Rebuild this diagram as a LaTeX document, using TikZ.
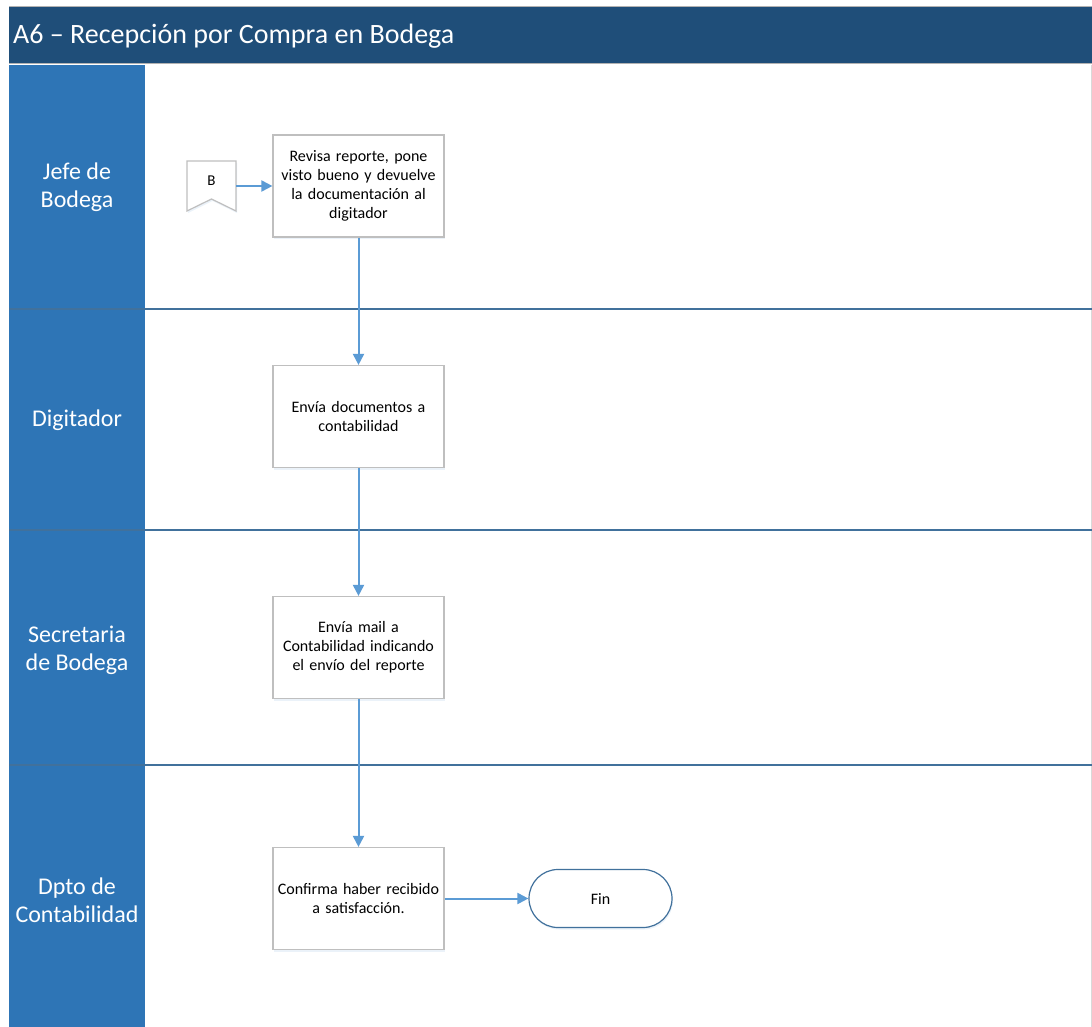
\documentclass[tikz,border=0pt]{standalone}
\usepackage{fontspec}
\setmainfont{Carlito}
\usetikzlibrary{arrows.meta,shapes.misc,shadows}
\definecolor{titlebar}{RGB}{31,78,121}
\definecolor{lanehead}{RGB}{46,117,182}
\definecolor{flow}{RGB}{91,155,213}
\definecolor{sepline}{RGB}{65,113,156}
\definecolor{boxline}{RGB}{191,191,191}
\tikzset{
  x=1pt, y=-1pt,
  lanelabel/.style={text=white, font=\fontsize{24}{28}\selectfont, align=center},
  softshadow/.style={drop shadow={opacity=0.12, shadow xshift=1pt, shadow yshift=-2pt, fill=flow}},
  taskbox/.style={draw=boxline, line width=1.2pt, fill=white, softshadow, minimum width=171pt, minimum height=102pt, align=center, text width=168pt, font=\fontsize{16}{19}\selectfont, inner sep=0pt},
  terminal/.style={draw=sepline, line width=1.2pt, fill=white, softshadow, rounded rectangle, minimum width=143pt, minimum height=58pt, inner xsep=0pt, font=\fontsize{16}{19}\selectfont},
  flowarrow/.style={draw=flow, line width=2pt, -{Triangle[length=11pt,width=11pt]}},
  lanesep/.style={draw=sepline, line width=2pt}
}
\begin{document}
\begin{tikzpicture}
\useasboundingbox (0,0) rectangle (1092,1027);
\fill[white] (0,0) rectangle (1092,1027);
% title bar
\fill[titlebar] (9,7) rectangle (1092,63);
\draw[gray!60, line width=1pt] (9,7) -- (1092,7);
\draw[gray!60, line width=1pt] (9,63.5) -- (1092,63.5);
\node[anchor=west, text=white, font=\fontsize{28}{32}\selectfont, inner sep=0pt] (title) at (13,36) {A6 – Recepción por Compra en Bodega};
% lane header column
\fill[lanehead] (9,65) rectangle (145,1027);
\draw[gray!30, line width=0.6pt] (1091.5,65) -- (1091.5,1027);
% lane separators
\draw[lanesep] (9,309) -- (1092,309);
\draw[lanesep] (9,530) -- (1092,530);
\draw[lanesep] (9,765) -- (1092,765);
% lane labels
\node[lanelabel] (l1) at (77,187) {Jefe de\\Bodega};
\node[lanelabel] (l2) at (77,420) {Digitador};
\node[lanelabel] (l3) at (77,650) {Secretaria\\de Bodega};
\node[lanelabel] (l4) at (77,900) {Dpto de\\Contabilidad};
% off-page connector B
\draw[boxline, line width=1.2pt, fill=white, softshadow] (187,161) -- (236,161) -- (236,211) -- (211.5,199) -- (187,211) -- cycle;
\node[font=\fontsize{15}{18}\selectfont, inner sep=0pt] (b) at (211.5,181) {B};
\coordinate (bout) at (236,186);
% tasks
\node[taskbox] (t1) at (358.5,186) {Revisa reporte, pone\\visto bueno y devuelve\\la documentación al\\digitador};
\node[taskbox] (t2) at (358.5,416.5) {Envía documentos a\\contabilidad};
\node[taskbox] (t3) at (358.5,647.5) {Envía mail a\\Contabilidad indicando\\el envío del reporte};
\node[taskbox] (t4) at (358.5,898.5) {Confirma haber recibido\\a satisfacción.};
\node[terminal] (fin) at (600.5,898.5) {Fin};
% connectors
\draw[flowarrow] (bout) -- (t1.west);
\draw[flowarrow] (t1.south) -- (t2.north);
\draw[flowarrow] (t2.south) -- (t3.north);
\draw[flowarrow] (t3.south) -- (t4.north);
\draw[flowarrow] (t4.east) -- (fin.west);
\end{tikzpicture}
\end{document}
